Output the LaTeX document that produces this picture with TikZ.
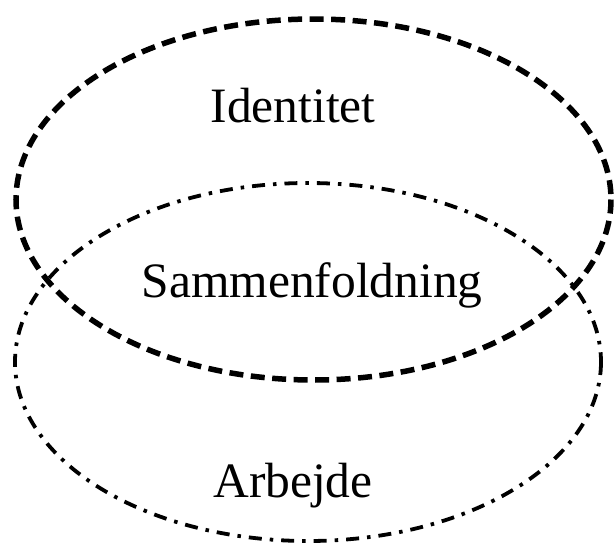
\documentclass[tikz,border=0pt]{standalone}
\usepackage{fontspec}
\setmainfont{Liberation Serif}
\begin{document}
\begin{tikzpicture}[x=1pt,y=-1pt,
  lbl/.style={anchor=base,inner sep=0pt,font=\fontsize{49.5}{55}\selectfont},
  topell/.style={line width=5.5pt,dash pattern=on 14pt off 7.5pt},
  botell/.style={line width=3.8pt,dash pattern=on 13pt off 8pt on 3.5pt off 8pt}]
\useasboundingbox (0,0) rectangle (614,547);
\draw[topell] (313.5,199.5) ellipse [x radius=297.5, y radius=180.5];
\draw[botell] (308,362) ellipse [x radius=293, y radius=179];
\node[lbl] (id) at (293,122) {Identitet};
\node[lbl] (sam) at (312,297) {Sammenfoldning};
\node[lbl] (arb) at (293,497) {Arbejde};
\end{tikzpicture}
\end{document}
